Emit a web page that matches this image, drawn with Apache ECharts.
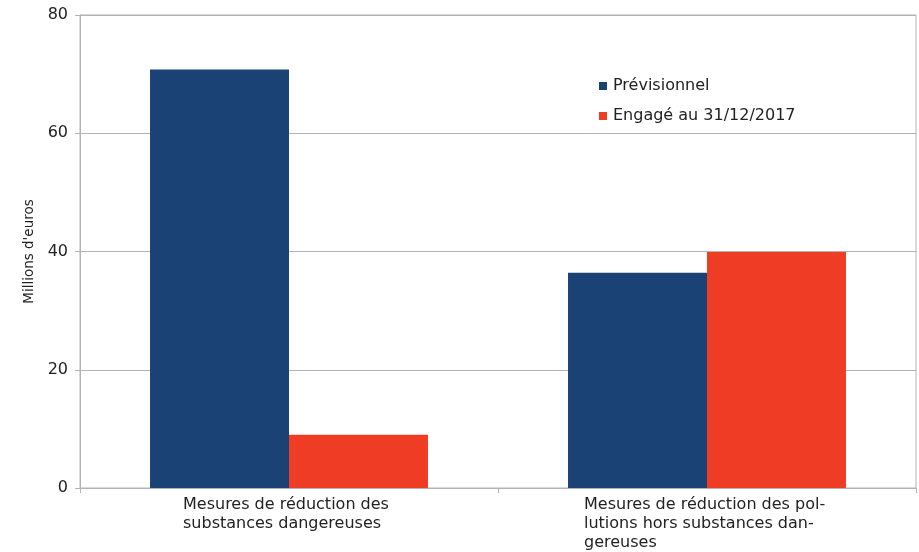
<!DOCTYPE html>
<html>
<head>
<meta charset="utf-8">
<script src="https://cdn.jsdelivr.net/npm/echarts@6/dist/echarts.min.js"></script>
<style>
  html, body { margin: 0; padding: 0; background: #fff; }
  #chart { width: 919px; height: 552px; }
</style>
</head>
<body>
<div id="chart"></div>
<script>
// Categories (hyphenated line breaks as in the printed report)
const categories = [
  "Mesures de réduction des\nsubstances dangereuses",
  "Mesures de réduction des pol-\nlutions hors substances dan-\ngereuses"
];
const seriesNames = ["Prévisionnel", "Engagé au 31/12/2017"];
const previsionnel = [70.8, 36.4];
const engage = [9.0, 39.9];
const yTicks = [0, 20, 40, 60, 80];

const FONT = "DejaVu Sans";
const GRID_COLOR = "#b3b3b3";

// Left-aligned multi-line labels, centred as a block under each category
const labelWidths = [212, 246];

const chart = echarts.init(document.getElementById("chart"), null, { renderer: "canvas" });
chart.setOption({
  animation: false,
  backgroundColor: "#fff",
  grid: {
    left: 80, right: 3, top: 15, bottom: 64,
    outerBoundsMode: "none",
    containLabel: false,
    show: true, borderColor: GRID_COLOR, borderWidth: 1,
    backgroundColor: "transparent"
  },
  legend: {
    orient: "vertical",
    left: 594, top: 73,
    itemWidth: 8, itemHeight: 8, itemGap: 14,
    icon: "rect",
    textStyle: { fontFamily: FONT, fontSize: 16, color: "#222", padding: [0, 0, 0, 1] },
    data: seriesNames
  },
  xAxis: {
    type: "category",
    data: categories,
    axisLine: { lineStyle: { color: GRID_COLOR, width: 1 } },
    axisTick: { show: true, length: 5, lineStyle: { color: GRID_COLOR } },
    axisLabel: {
      margin: 7,
      interval: 0,
      formatter: function (value, idx) {
        return value.split("\n").map(l => "{c" + idx + "|" + l + "}").join("\n");
      },
      rich: {
        c0: { width: labelWidths[0], align: "left", fontFamily: FONT, fontSize: 16, color: "#222", lineHeight: 19 },
        c1: { width: labelWidths[1], align: "left", fontFamily: FONT, fontSize: 16, color: "#222", lineHeight: 19 }
      }
    }
  },
  yAxis: {
    type: "value",
    min: 0, max: 80, interval: 20,
    name: "Millions d'euros",
    nameLocation: "middle",
    nameGap: 43,
    nameRotate: 90,
    nameTextStyle: { fontFamily: FONT, fontSize: 13.5, color: "#222" },
    axisLine: { show: true, lineStyle: { color: GRID_COLOR, width: 1 } },
    axisTick: { show: true, length: 5, lineStyle: { color: GRID_COLOR } },
    axisLabel: {
      margin: 12,
      fontFamily: FONT, fontSize: 16, color: "#222",
      formatter: v => (yTicks.includes(v) ? String(v) : "")
    },
    splitLine: { show: true, lineStyle: { color: GRID_COLOR, width: 1 } }
  },
  series: [
    {
      name: seriesNames[0],
      type: "bar",
      data: previsionnel,
      barGap: "0%",
      barCategoryGap: "33.5%",
      itemStyle: { color: "#1b4275" }
    },
    {
      name: seriesNames[1],
      type: "bar",
      data: engage,
      barGap: "0%",
      barCategoryGap: "33.5%",
      itemStyle: { color: "#ef3d25" }
    }
  ]
});
</script>
</body>
</html>
